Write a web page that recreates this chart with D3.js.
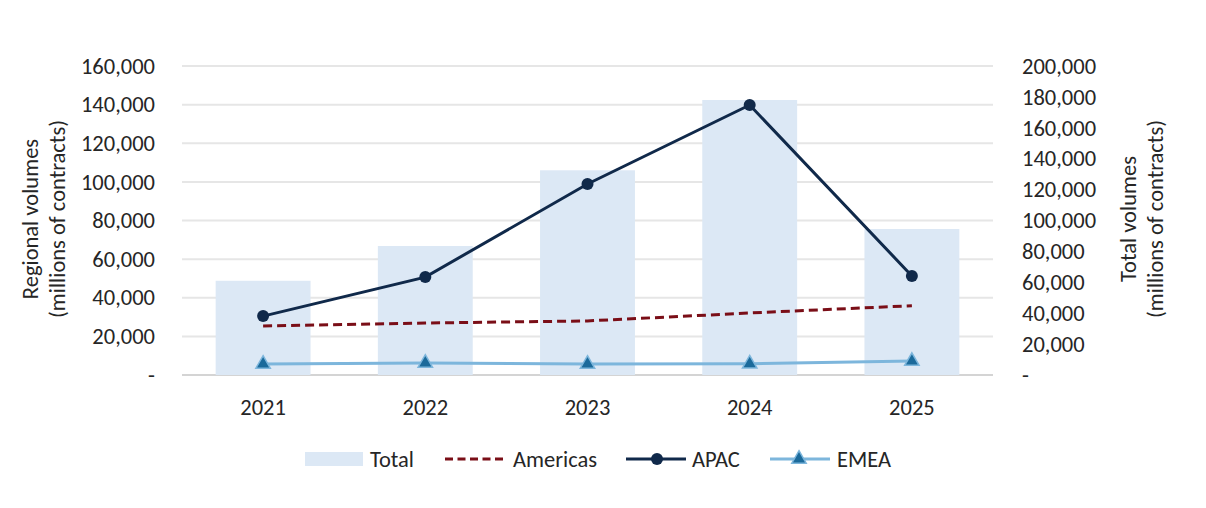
<!DOCTYPE html>
<html>
<head>
<meta charset="utf-8">
<script src="https://cdn.jsdelivr.net/npm/d3@7"></script>
<style>
  body { margin: 0; background: #fff; }
  text { font-family: Carlito, Calibri, "Open Sans", sans-serif; fill: #262626; }
</style>
</head>
<body>
<svg id="chart"></svg>
<script>
// chart data
const years = ["2021", "2022", "2023", "2024", "2025"];
const total = [61000, 83500, 132500, 178000, 94500];
const americas = [25400, 26900, 28000, 32100, 35900];
const apac = [30500, 50700, 98900, 139800, 51300];
const emea = [5700, 6200, 5700, 5800, 7200];
const leftTicks = [0, 20000, 40000, 60000, 80000, 100000, 120000, 140000, 160000];
const rightTicks = [0, 20000, 40000, 60000, 80000, 100000, 120000, 140000, 160000, 180000, 200000];

const W = 1206, H = 508;
const margin = {top: 66, right: 213, bottom: 133, left: 182};
const width = W - margin.left - margin.right;
const height = H - margin.top - margin.bottom;
const fontSize = 22.5;

const svg = d3.select("#chart")
  .attr("width", W)
  .attr("height", H);

const g = svg.append("g")
  .attr("transform", `translate(${margin.left},${margin.top})`);

const x = d3.scaleBand()
  .domain(years)
  .range([0, width])
  .paddingInner(0.415)
  .paddingOuter(0.2075);

const yL = d3.scaleLinear().domain([0, 160000]).range([height, 0]);
const yR = d3.scaleLinear().domain([0, 200000]).range([height, 0]);

const fmt = v => v === 0 ? "-" : d3.format(",")(v);

// gridlines
g.append("g")
  .selectAll("line")
  .data(leftTicks)
  .join("line")
    .attr("x1", 0)
    .attr("x2", width)
    .attr("y1", d => yL(d))
    .attr("y2", d => yL(d))
    .attr("stroke", d => d === 0 ? "#d4d4d4" : "#e6e6e6")
    .attr("stroke-width", 2);

// bars (right axis)
g.append("g")
  .selectAll("rect")
  .data(years)
  .join("rect")
    .attr("x", d => x(d))
    .attr("width", x.bandwidth())
    .attr("y", (d, i) => yR(total[i]))
    .attr("height", (d, i) => height - yR(total[i]))
    .attr("fill", "#dce8f5");

// axes
const leftAxis = g.append("g")
  .call(d3.axisLeft(yL).tickValues(leftTicks).tickFormat(fmt).tickSize(0).tickPadding(27));
leftAxis.select(".domain").remove();
leftAxis.selectAll("text").attr("font-size", fontSize).attr("fill", "#262626");

const rightAxis = g.append("g")
  .attr("transform", `translate(${width},0)`)
  .call(d3.axisRight(yR).tickValues(rightTicks).tickFormat(fmt).tickSize(0).tickPadding(29));
rightAxis.select(".domain").remove();
rightAxis.selectAll("text").attr("font-size", fontSize).attr("fill", "#262626");

const bottomAxis = g.append("g")
  .attr("transform", `translate(0,${height})`)
  .call(d3.axisBottom(x).tickSize(0).tickPadding(24));
bottomAxis.select(".domain").remove();
bottomAxis.selectAll("text").attr("font-size", fontSize).attr("fill", "#262626");

// axis titles
const lt = svg.append("text")
  .attr("transform", "translate(38,219) rotate(-90)")
  .attr("text-anchor", "middle")
  .attr("font-size", fontSize);
lt.append("tspan").attr("x", 0).attr("dy", 0).text("Regional volumes");
lt.append("tspan").attr("x", 0).attr("dy", 27).text("(millions of contracts)");

const rt = svg.append("text")
  .attr("transform", "translate(1136,219) rotate(-90)")
  .attr("text-anchor", "middle")
  .attr("font-size", fontSize);
rt.append("tspan").attr("x", 0).attr("dy", 0).text("Total volumes");
rt.append("tspan").attr("x", 0).attr("dy", 27).text("(millions of contracts)");

const cx = d => x(d) + x.bandwidth() / 2;

// lines
const line = d3.line()
  .x(([yr]) => cx(yr))
  .y(([, v]) => yL(v));

g.append("path")
  .attr("d", line(d3.zip(years, americas)))
  .attr("fill", "none")
  .attr("stroke", "#7a0e17")
  .attr("stroke-width", 3)
  .attr("stroke-dasharray", "9,5");

g.append("path")
  .attr("d", line(d3.zip(years, emea)))
  .attr("fill", "none")
  .attr("stroke", "#7db6dc")
  .attr("stroke-width", 3);

g.append("g")
  .selectAll("path")
  .data(years)
  .join("path")
    .attr("transform", (d, i) => `translate(${cx(d)},${yL(emea[i])})`)
    .attr("d", d3.symbol(d3.symbolTriangle, 90)())
    .attr("fill", "#1b6a9b")
    .attr("stroke", "#7db6dc")
    .attr("stroke-width", 1.5);

g.append("path")
  .attr("d", line(d3.zip(years, apac)))
  .attr("fill", "none")
  .attr("stroke", "#10294a")
  .attr("stroke-width", 3);

g.append("g")
  .selectAll("circle")
  .data(years)
  .join("circle")
    .attr("cx", d => cx(d))
    .attr("cy", (d, i) => yL(apac[i]))
    .attr("r", 6)
    .attr("fill", "#10294a");

// legend
const lg = svg.append("g").attr("transform", "translate(0,459)");

lg.append("rect").attr("x", 305).attr("y", -7).attr("width", 58).attr("height", 14).attr("fill", "#dce8f5");
lg.append("text").attr("x", 370).attr("y", 8).attr("font-size", fontSize).text("Total");

lg.append("line").attr("x1", 445).attr("x2", 506).attr("y1", 0).attr("y2", 0)
  .attr("stroke", "#7a0e17").attr("stroke-width", 3).attr("stroke-dasharray", "8,4.5");
lg.append("text").attr("x", 513).attr("y", 8).attr("font-size", fontSize).text("Americas");

lg.append("line").attr("x1", 626).attr("x2", 686).attr("y1", 0).attr("y2", 0)
  .attr("stroke", "#10294a").attr("stroke-width", 3);
lg.append("circle").attr("cx", 657).attr("cy", 0).attr("r", 6).attr("fill", "#10294a");
lg.append("text").attr("x", 692).attr("y", 8).attr("font-size", fontSize).text("APAC");

lg.append("line").attr("x1", 770).attr("x2", 830).attr("y1", 0).attr("y2", 0)
  .attr("stroke", "#7db6dc").attr("stroke-width", 3);
lg.append("path").attr("transform", "translate(799,0)")
  .attr("d", d3.symbol(d3.symbolTriangle, 90)())
  .attr("fill", "#1b6a9b").attr("stroke", "#7db6dc").attr("stroke-width", 1.5);
lg.append("text").attr("x", 837).attr("y", 8).attr("font-size", fontSize).text("EMEA");
</script>
</body>
</html>
